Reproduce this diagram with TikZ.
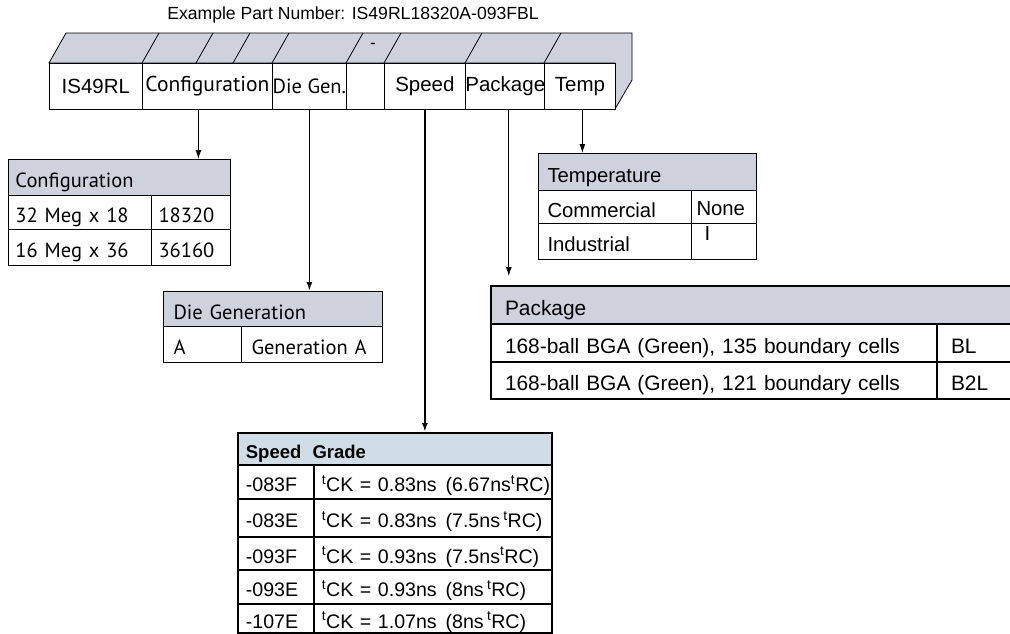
\documentclass[tikz,border=0pt]{standalone}
\usepackage{fontspec}
\setmainfont{Liberation Sans}
\newfontfamily\myr{PT Sans}
\usetikzlibrary{arrows.meta}
\definecolor{hdrgray}{RGB}{205,210,221}
\definecolor{spdblue}{RGB}{209,221,230}
\newcommand{\fs}[1]{\fontsize{#1}{#1}\selectfont}
\newcommand{\tck}[2]{\mbox{\textsuperscript{t}CK = #1\hspace{0.45em}(#2\textsuperscript{t}RC)}}

\tikzset{
  cell/.style={draw, fill=white, anchor=north west, inner sep=0pt, minimum height=46pt},
  tcell/.style={draw, fill=white, anchor=north west, inner ysep=0pt, align=left,
    execute at begin node={\rule[-0.22em]{0pt}{1.44em}}},
  arr/.style={-{Latex[length=9pt,width=6pt]}, line width=0.9pt},
  tarr/.style={arr, line width=1.8pt},
}

\begin{document}
\begin{tikzpicture}[x=1pt,y=-1pt]
\useasboundingbox (0,0) rectangle (1010,634);
\node[font=\fs{17.6}] (title) at (353,15) {Example Part Number: IS49RL18320A-093FBL};

\draw[fill=hdrgray, line width=0.8pt] (49,63) -- (66,33) -- (632,33) -- (632,80) -- (615,109) -- (615,63) -- cycle;
\foreach \x in {142,196,233,272,346,384,465,544}
  \draw[line width=0.8pt] (\x,63) -- ++(17,-30);
\node[font=\fs{17}] (dash) at (373,46) {-};

\begin{scope}[every node/.style={cell, line width=0.8pt, font=\fs{20.5}}]
  \node[minimum width=93pt] (fis) at (49,63) {IS49RL};
  \node[minimum width=130pt, font=\myr\fs{21.5}] (fcfg) at (142,63) {Configuration};
  \node[minimum width=74pt, font=\myr\fs{20.5}] (fdie) at (272,63) {Die Gen.};
  \node[minimum width=38pt] (fdash) at (346,63) {};
  \node[minimum width=81pt] (fspd) at (384,63) {Speed};
  \node[minimum width=79pt] (fpkg) at (465,63) {Package};
  \node[minimum width=71pt] (ftmp) at (544,63) {Temp};
\end{scope}

\begin{scope}[every node/.style={tcell, inner xsep=7pt, line width=1pt, font=\myr\fs{20.5}}]
  \node[fill=hdrgray, text width=208pt, minimum height=36pt] (cfgh) at (8,159) {Configuration};
  \node[text width=129pt, minimum height=34pt] (cfga) at (8,195) {32 Meg x 18};
  \node[text width=65pt, minimum height=34pt] (cfgb) at (151,195) {18320};
  \node[text width=129pt, minimum height=36pt] (cfgc) at (8,229) {16 Meg x 36};
  \node[text width=65pt, minimum height=36pt] (cfgd) at (151,229) {36160};
\end{scope}

\begin{scope}[every node/.style={tcell, inner xsep=10pt, line width=1pt, font=\myr\fs{20.5}}]
  \node[fill=hdrgray, text width=199pt, minimum height=35pt] (dgh) at (163,291) {Die Generation};
  \node[text width=58pt, minimum height=36pt] (dga) at (163,326) {A};
  \node[text width=121pt, minimum height=36pt] (dgb) at (241,326) {Generation A};
\end{scope}

\begin{scope}[every node/.style={tcell, inner xsep=9pt, line width=1pt, font=\fs{20.3}}]
  \node[fill=hdrgray, text width=200pt, minimum height=37pt] (tph) at (538,153) {Temperature};
  \node[text width=135pt, minimum height=33pt] (tpa) at (538,190) {Commercial};
  \node[inner xsep=5pt, text width=55pt, minimum height=33pt] (tpb) at (691,190) {\raisebox{2pt}{None}};
  \node[text width=135pt, minimum height=36pt] (tpc) at (538,223) {Industrial};
  \node[inner xsep=5pt, text width=55pt, minimum height=36pt] (tpd) at (691,223) {\hspace*{8pt}\raisebox{11pt}[0pt][0pt]{I}};
\end{scope}

\begin{scope}[every node/.style={tcell, inner xsep=14pt, line width=2pt, font=\fs{20.9}}]
  \node[fill=hdrgray, text width=502pt, minimum height=38pt] (pkh) at (490,285) {Package};
  \node[text width=418pt, minimum height=38pt] (pka) at (490,323) {168-ball BGA (Green), 135 boundary cells};
  \node[text width=56pt, minimum height=38pt] (pkb) at (936,323) {BL};
  \node[text width=418pt, minimum height=37pt] (pkc) at (490,361) {168-ball BGA (Green), 121 boundary cells};
  \node[text width=56pt, minimum height=37pt] (pkd) at (936,361) {B2L};
\end{scope}

\begin{scope}[every node/.style={tcell, inner xsep=8pt, line width=1.8pt, font=\fs{19.6}}]
  \node[fill=spdblue, text width=298pt, minimum height=32pt, font=\bfseries\fs{18.5}] (sph) at (237,432) {Speed\hspace{0.6em}Grade};
  \node[text width=60pt, minimum height=34pt] (spa1) at (237,464) {-083F};
  \node[text width=222pt, minimum height=34pt] (spb1) at (313,464) {\tck{0.83ns}{6.67ns}};
  \node[text width=60pt, minimum height=38pt] (spa2) at (237,498) {-083E};
  \node[text width=222pt, minimum height=38pt] (spb2) at (313,498) {\tck{0.83ns}{7.5ns\,}};
  \node[text width=60pt, minimum height=33pt] (spa3) at (237,536) {-093F};
  \node[text width=222pt, minimum height=33pt] (spb3) at (313,536) {\tck{0.93ns}{7.5ns}};
  \node[text width=60pt, minimum height=34pt] (spa4) at (237,569) {-093E};
  \node[text width=222pt, minimum height=34pt] (spb4) at (313,569) {\tck{0.93ns}{8ns\,}};
  \node[text width=60pt, minimum height=29pt] (spa5) at (237,603) {-107E};
  \node[text width=222pt, minimum height=29pt] (spb5) at (313,603) {\tck{1.07ns}{8ns\,}};
\end{scope}

\draw[arr] ([xshift=-9pt]fcfg.south) -- ([xshift=-9pt]fcfg.south |- cfgh.north);
\draw[tarr] (fdie.south) -- (fdie.south |- dgh.north);
\draw[tarr] (fspd.south) -- (fspd.south |- sph.north);
\draw[arr] ([xshift=3.5pt]fpkg.south) -- ([xshift=3.5pt,yshift=9pt]fpkg.south |- pkh.north);
\draw[arr] ([xshift=2.5pt]ftmp.south) -- ([xshift=2.5pt]ftmp.south |- tph.north);
\end{tikzpicture}
\end{document}
